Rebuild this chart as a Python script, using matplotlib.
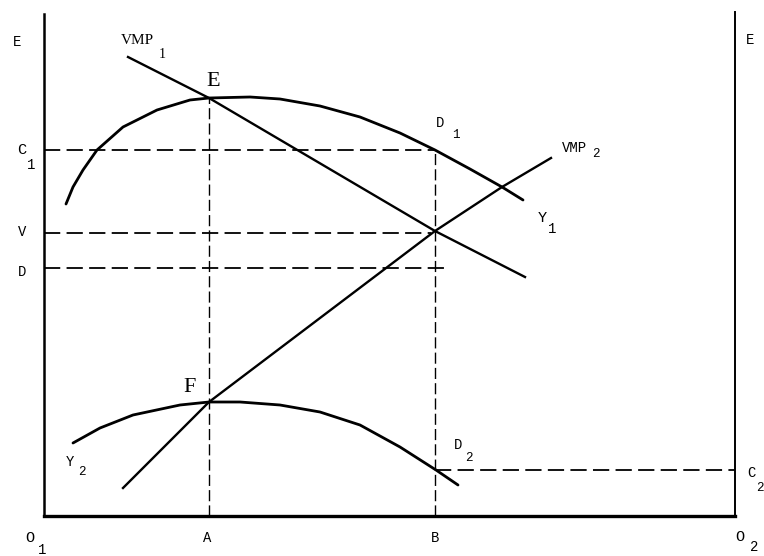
import numpy as np
import matplotlib.pyplot as plt

# diagram units: origin at O1, x to the right, y upward
o2 = 691
top_left = 502
top_right = 504
a_x = 165
b_x = 391
c1 = 366
v = 283
d = 248
c2 = 46

vmp1_x = [84, 165, 391, 481]
vmp1_y = [459, 418, 285, 239]

y1_x = [22, 29, 39, 53, 79, 113, 146, 165, 206, 236, 276, 316, 356, 391, 426, 458, 479]
y1_y = [312, 329, 346, 366, 389, 406, 416, 418, 419, 417, 410, 399, 383, 366, 347, 329, 316]

vmp2_x = [79, 165, 391, 458, 507]
vmp2_y = [28, 114, 285, 329, 358]

y2_x = [29, 56, 89, 136, 165, 196, 236, 276, 316, 356, 392, 414]
y2_y = [73, 88, 101, 111, 114, 114, 111, 104, 91, 69, 46, 31]

fig = plt.figure(figsize=(7.64, 5.56), dpi=100)
ax = fig.add_axes([0, 0, 1, 1])
ax.set_xlim(-44, 720)
ax.set_ylim(-40, 516)
ax.axis('off')

# frame
ax.plot([0, 0], [0, top_left], color='black', lw=1.8)
ax.plot([0, o2], [0, 0], color='black', lw=2.4)
ax.plot([o2, o2], [0, top_right], color='black', lw=1.4)

# curves
ax.plot(y1_x, y1_y, color='black', lw=2.0, solid_capstyle='round', solid_joinstyle='round')
ax.plot(y2_x, y2_y, color='black', lw=2.0, solid_capstyle='round', solid_joinstyle='round')
ax.plot(vmp1_x, vmp1_y, color='black', lw=1.7)
ax.plot(vmp2_x, vmp2_y, color='black', lw=1.7)

# dashed guides
dash = dict(color='black', lw=1.3, dashes=(9, 3.5))
ax.plot([0, b_x], [c1, c1], **dash)
ax.plot([0, b_x - 4], [v, v], **dash)
ax.plot([0, 401], [d, d], **dash)
ax.plot([b_x, o2], [c2, c2], **dash)
vdash = dict(color='black', lw=1.0, dashes=(8, 3))
ax.plot([a_x, a_x], [0, 418], **vdash)
ax.plot([b_x, b_x], [0, c1], **vdash)

mono = 'Liberation Mono'
serif = 'Liberation Serif'


def label(x, y, s, sub=None, sx=0, sy=0, size=11, family=mono):
    ax.text(x, y, s, ha='center', va='center', fontsize=size, family=family)
    if sub:
        ax.text(sx, sy, sub, ha='center', va='center', fontsize=size - 1, family=family)


label(-27, 474, 'E', size=10)
label(706, 476, 'E', size=10)
label(-22, 366, 'C', '1', -13, 351)
label(-22, 284, 'V', size=10)
label(-22, 244, 'D', size=10)
label(93, 476, 'VMP', '1', 118, 461, size=11, family=serif)
label(169, 435, 'E', size=16, family=serif)
label(396, 393, 'D', '1', 412, 381, size=10)
label(531, 368, 'VMP', '2', 552, 362, size=10)
label(498, 298, 'Y', '1', 508, 287)
label(146, 128, 'F', size=16, family=serif)
label(26, 54, 'Y', '2', 38, 44, size=10)
label(414, 71, 'D', '2', 425, 58, size=10)
label(707, 43, 'C', '2', 716, 28, size=10)
label(-14, -22, 'O', '1', -2, -34)
label(163, -22, 'A', size=10)
label(391, -22, 'B', size=10)
label(696, -21, 'O', '2', 710, -31)

fig.savefig('out.png', dpi=100)
